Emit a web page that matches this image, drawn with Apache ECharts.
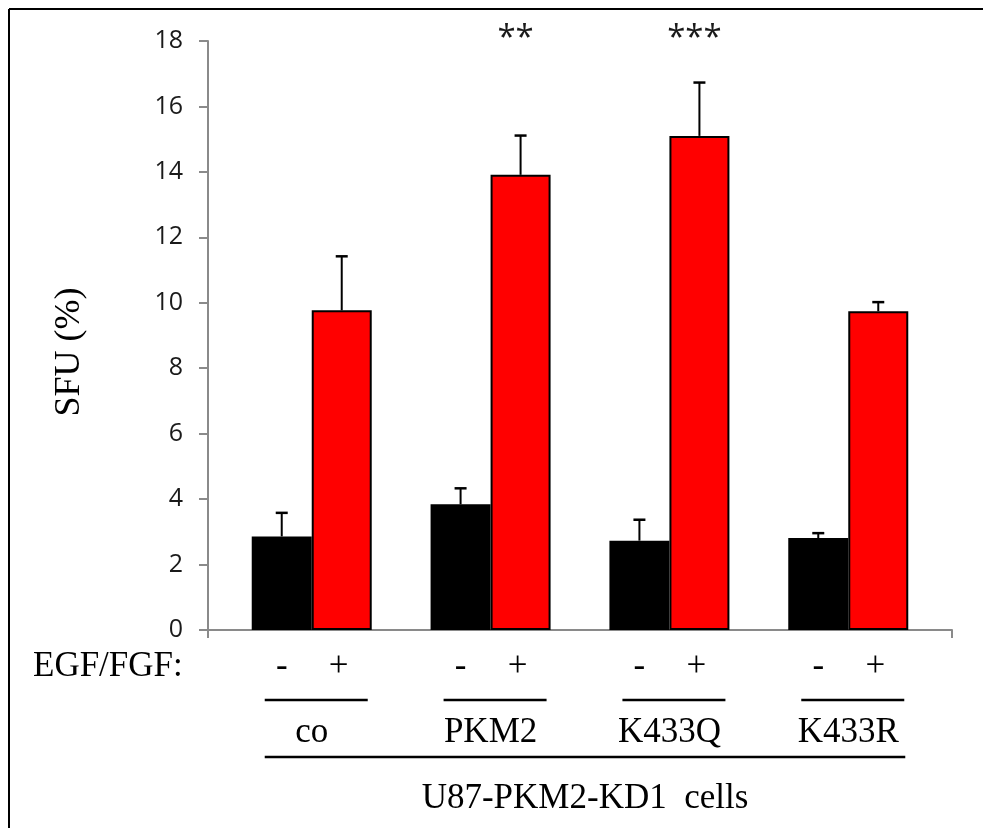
<!DOCTYPE html>
<html>
<head>
<meta charset="utf-8">
<script src="https://cdn.jsdelivr.net/npm/echarts@6/dist/echarts.min.js"></script>
<style>
html,body{margin:0;padding:0;background:#fff;}
#main{width:983px;height:828px;}
</style>
</head>
<body>
<div id="main"></div>
<script>
// groups and values (SFU %)
var categories = ['co', 'PKM2', 'K433Q', 'K433R'];
var minusMean  = [2.86, 3.84, 2.73, 2.81];
var minusUpper = [3.58, 4.33, 3.37, 2.96];
var plusMean   = [9.77, 13.91, 15.10, 9.74];
var plusUpper  = [11.42, 15.11, 16.73, 10.02];
var sigMarks   = ['', '**', '***', ''];
var treatLabels = ['-', '+'];
var yMin = 0, yMax = 18, yStep = 2;
var xMin = -0.58, xSpan = 4.16;

var barW = 60;
var serif = '"Liberation Serif", "Times New Roman", serif';

var myChart = echarts.init(document.getElementById('main'));

var errData = [];
for (var i = 0; i < categories.length; i++) {
	errData.push([i, minusUpper[i], minusMean[i], -1]);
	errData.push([i, plusUpper[i], plusMean[i], 1]);
}
var sigData = [];
for (var i = 0; i < sigMarks.length; i++) {
	if (sigMarks[i] != '') sigData.push([i, yMax, sigMarks[i]]);
}

var option = {
	animation: false,
	backgroundColor: '#fff',
	grid: { left: 208, right: 31, top: 41, bottom: 198 },
	xAxis: {
		type: 'value',
		min: xMin,
		max: xMin + xSpan,
		interval: xSpan,
		axisLine: { show: true, onZero: false, lineStyle: { color: '#8a8a8a', width: 2 } },
		axisTick: { show: true, length: 8, lineStyle: { color: '#8a8a8a', width: 2 } },
		axisLabel: { show: false },
		splitLine: { show: false }
	},
	yAxis: {
		type: 'value',
		min: yMin,
		max: yMax,
		interval: yStep,
		axisLine: { show: true, onZero: false, lineStyle: { color: '#8a8a8a', width: 2 } },
		axisTick: { show: true, length: 9, lineStyle: { color: '#8a8a8a', width: 2 } },
		axisLabel: { margin: 25, fontSize: 25, color: '#1a1a1a', fontFamily: '"Open Sans", sans-serif' },
		splitLine: { show: false }
	},
	series: [
		{
			name: '-',
			type: 'bar',
			barWidth: barW,
			barGap: '0%',
			data: categories.map(function (c, i) { return [i, minusMean[i]]; }),
			itemStyle: { color: '#000', borderColor: '#000', borderWidth: 2 }
		},
		{
			name: '+',
			type: 'bar',
			barWidth: barW,
			barGap: '0%',
			data: categories.map(function (c, i) { return [i, plusMean[i]]; }),
			itemStyle: { color: '#ff0000', borderColor: '#000', borderWidth: 2 }
		},
		{
			// upper error bars
			type: 'custom',
			clip: false,
			z: 5,
			data: errData,
			renderItem: function (params, api) {
				var off = api.value(3) * barW / 2;
				var top = api.coord([api.value(0), api.value(1)]);
				var base = api.coord([api.value(0), api.value(2)]);
				var x = top[0] + off;
				return {
					type: 'group',
					children: [
						{ type: 'line', shape: { x1: x, y1: base[1], x2: x, y2: top[1] }, style: { stroke: '#000', lineWidth: 2 } },
						{ type: 'line', shape: { x1: x - 6, y1: top[1], x2: x + 6, y2: top[1] }, style: { stroke: '#000', lineWidth: 2.5 } }
					]
				};
			}
		},
		{
			// significance stars over the + bars
			type: 'custom',
			clip: false,
			data: sigData,
			renderItem: function (params, api) {
				var p = api.coord([api.value(0), api.value(1)]);
				return {
					type: 'text',
					style: {
						text: api.value(2),
						x: p[0] + barW / 2 - 5,
						y: p[1] - 2,
						align: 'center',
						verticalAlign: 'middle',
						fontSize: 33,
						fontFamily: '"Open Sans", sans-serif',
						fill: '#1a1a1a'
					}
				};
			}
		}
	]
};
myChart.setOption(option);

// labels below the axis, placed from the group positions
// (texts are top-aligned; cap top sits ~ baseline - 27 for 35px serif)
function label(txt, x, baseline, align, size) {
	return { type: 'text', style: { text: txt, x: x, y: baseline - 27, align: align, verticalAlign: 'top', fontSize: size || 35, fontFamily: serif, fill: '#000' } };
}
var graphics = [];
var baseY = 676;
for (var i = 0; i < categories.length; i++) {
	var cx = myChart.convertToPixel({ gridIndex: 0 }, [i, 0])[0];
	graphics.push(label(treatLabels[0], cx - 30, baseY, 'center'));
	graphics.push(label(treatLabels[1], cx + 27, baseY, 'center'));
	graphics.push({ type: 'line', shape: { x1: cx - 47, y1: 700, x2: cx + 56, y2: 700 }, style: { stroke: '#000', lineWidth: 2.5 } });
	graphics.push(label(categories[i], cx, 742, 'center'));
}
var x0 = myChart.convertToPixel({ gridIndex: 0 }, [0, 0])[0];
var x3 = myChart.convertToPixel({ gridIndex: 0 }, [categories.length - 1, 0])[0];
graphics.push({ type: 'line', shape: { x1: x0 - 47, y1: 757, x2: x3 + 57, y2: 757 }, style: { stroke: '#000', lineWidth: 2.5 } });
graphics.push(label('U87-PKM2-KD1  cells', (x0 - 47 + x3 + 57) / 2, 808, 'center'));
graphics.push(label('EGF/FGF:', 33, baseY, 'left'));
graphics.push({ type: 'text', rotation: Math.PI / 2, x: 70, y: 352, style: { text: 'SFU (%)', x: 0, y: 0, align: 'center', verticalAlign: 'middle', fontSize: 36, fontFamily: serif, fill: '#000' } });
// frame lines on the left and top edge
graphics.push({ type: 'line', shape: { x1: 9, y1: 9, x2: 983, y2: 9 }, style: { stroke: '#000', lineWidth: 2 } });
graphics.push({ type: 'line', shape: { x1: 9, y1: 9, x2: 9, y2: 828 }, style: { stroke: '#000', lineWidth: 2 } });
myChart.setOption({ graphic: graphics });
</script>
</body>
</html>
